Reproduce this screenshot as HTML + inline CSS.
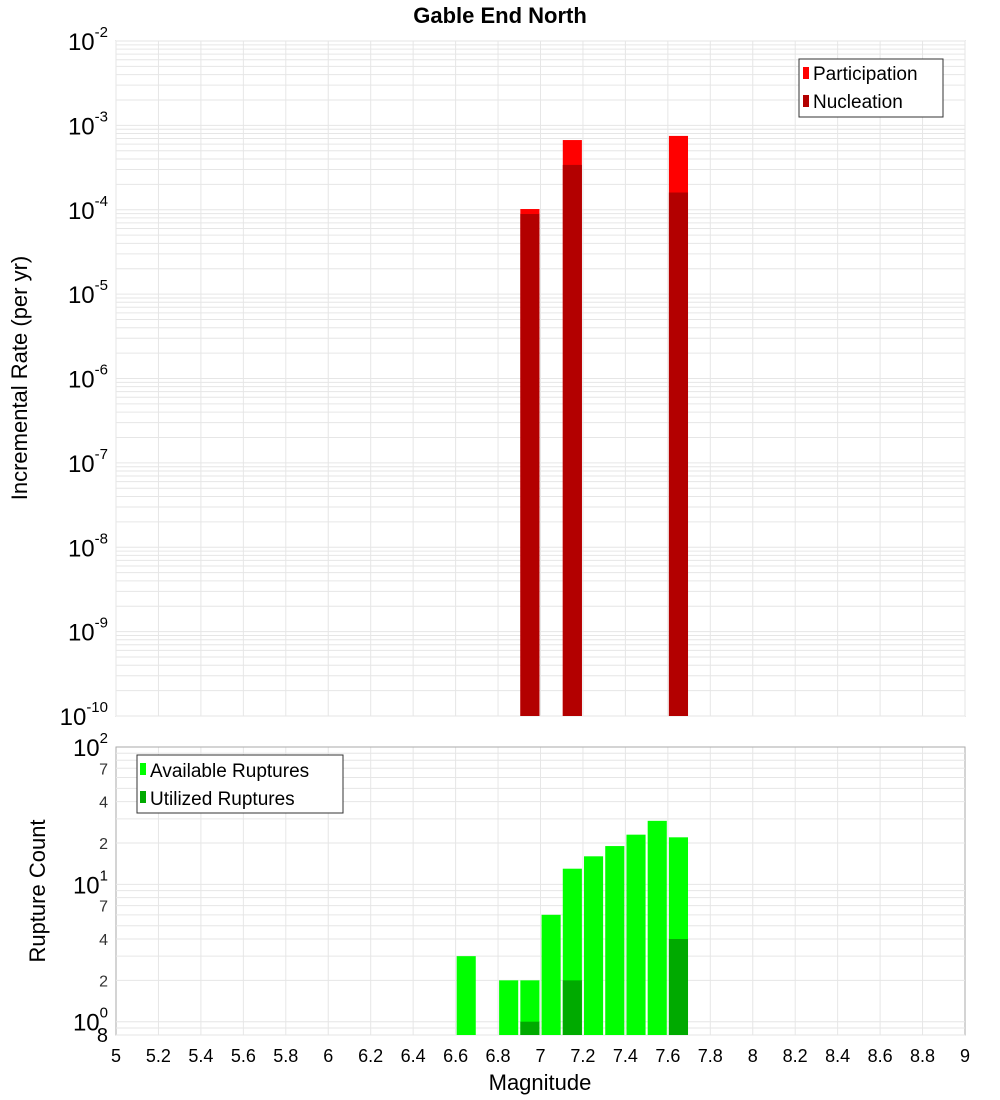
<!DOCTYPE html>
<html><head><meta charset="utf-8"><style>
html,body{margin:0;padding:0;background:#fff;}
svg{display:block;font-family:"Liberation Sans","DejaVu Sans",sans-serif;}
</style></head><body>
<svg id="chart" width="1000" height="1100" viewBox="0 0 1000 1100" xmlns="http://www.w3.org/2000/svg">
<text x="500" y="23" text-anchor="middle" font-size="22" font-weight="bold">Gable End North</text>
<g id="topPanel"></g><g id="botPanel"></g>
<text transform="translate(27,378) rotate(-90)" text-anchor="middle" font-size="22">Incremental Rate (per yr)</text>
<text transform="translate(45,891) rotate(-90)" text-anchor="middle" font-size="22">Rupture Count</text>
<text x="540" y="1090" text-anchor="middle" font-size="22">Magnitude</text>
<g>
<rect x="799" y="59" width="144" height="58" fill="#fff" stroke="#333"/>
<rect x="803" y="67" width="6" height="12" fill="#ff0000"/>
<text x="813" y="80" font-size="19">Participation</text>
<rect x="803" y="95" width="6" height="12" fill="#b30000"/>
<text x="813" y="108" font-size="19">Nucleation</text>
</g>
<g>
<rect x="137" y="755" width="206" height="58" fill="#fff" stroke="#333"/>
<rect x="140" y="763" width="6" height="12" fill="#00ff00"/>
<text x="150" y="777" font-size="19">Available Ruptures</text>
<rect x="140" y="791" width="6" height="12" fill="#00aa00"/>
<text x="150" y="805" font-size="19">Utilized Ruptures</text>
</g>
</svg>
<script>
const NS="http://www.w3.org/2000/svg";
const rateMags=[6.95,7.15,7.65];
const participation=[1.02e-4,6.7e-4,7.5e-4];
const nucleation=[8.9e-5,3.4e-4,1.6e-4];
const countMags=[6.65,6.85,6.95,7.05,7.15,7.25,7.35,7.45,7.55,7.65];
const available=[3,2,2,6,13,16,19,23,29,22];
const utilizedMags=[6.95,7.15,7.65];
const utilized=[1,2,4];
const xTicks=[5,5.2,5.4,5.6,5.8,6,6.2,6.4,6.6,6.8,7,7.2,7.4,7.6,7.8,8,8.2,8.4,8.6,8.8,9];
const topDecades=[-10,-9,-8,-7,-6,-5,-4,-3,-2];
const botTickVals=[2,4,7,20,40,70];

const L=116,R=965;
const X=m=>L+(m-5)/4*(R-L);
const T1=41,B1=716, yTop=v=>T1+(-2-Math.log10(v))/8*(B1-T1);
const T2=747,B2=1035, yBot=v=>T2+(2-Math.log10(v))/Math.log10(100/0.8)*(B2-T2);
const BW=0.09;
function el(p,t,a){const e=document.createElementNS(NS,t);for(const k in a)e.setAttribute(k,a[k]);p.appendChild(e);return e;}
const topG=document.getElementById('topPanel'),botG=document.getElementById('botPanel');

let r=el(topG,'rect',{x:L,y:T1,width:R-L,height:B1-T1,fill:'#fff',stroke:'#aaa'});


for(const d of topDecades){for(let k=1;k<10;k++){const v=k*Math.pow(10,d);if(v>1e-2+1e-12)continue;const y=yTop(v);
 const g=el(topG,'line',{x1:L,x2:R,y1:y,y2:y,stroke:'#e6e6e6','stroke-width':1});
 
 }}
for(const t of xTicks){const x=X(t);
 const g=el(topG,'line',{x1:x,x2:x,y1:T1,y2:B1,stroke:'#e6e6e6'});
 
 
 const g2=el(botG,'line',{x1:x,x2:x,y1:T2,y2:B2,stroke:'#e6e6e6'});
 
 }
for(const d of topDecades){const y=yTop(Math.pow(10,d));
 const t=el(topG,'text',{x:108,y:y+9,'text-anchor':'end','font-size':24});
 
 
 t.textContent='10';
 const s=el(t,'tspan',{dy:-13,'font-size':15});s.textContent=String(d);}
rateMags.forEach((m,i)=>{
 const x=X(m-BW/2),w=X(m+BW/2)-x;
 let b=el(topG,'rect',{x:x,y:yTop(participation[i]),width:w,height:B1-yTop(participation[i]),fill:'#ff0000'});
 
 
 b=el(topG,'rect',{x:x,y:yTop(nucleation[i]),width:w,height:B1-yTop(nucleation[i]),fill:'#b30000'});
 
 
});

r=el(botG,'rect',{x:L,y:T2,width:R-L,height:B2-T2,fill:'none',stroke:'#aaa'});


for(let d=-1;d<2;d++){for(let k=1;k<10;k++){const v=k*Math.pow(10,d);if(v<0.8)continue;const y=yBot(v);
 const g=el(botG,'line',{x1:L,x2:R,y1:y,y2:y,stroke:'#e6e6e6'});
 
 }}
for(const v of botTickVals){const t=el(botG,'text',{x:108,y:yBot(v)+6,'text-anchor':'end','font-size':16,fill:'#333'});
 
 
 t.textContent=String(v).charAt(0);}
[[100,'2'],[10,'1'],[1,'0']].forEach(([v,e])=>{const t=el(botG,'text',{x:108,y:yBot(v)+9,'text-anchor':'end','font-size':24});
 
 
 t.textContent='10';const s=el(t,'tspan',{dy:-13,'font-size':15});s.textContent=e;});
let t8=el(botG,'text',{x:108,y:1042,'text-anchor':'end','font-size':20});


t8.textContent='8';
countMags.forEach((m,i)=>{const x=X(m-BW/2),w=X(m+BW/2)-x;
 const b=el(botG,'rect',{x:x,y:yBot(available[i]),width:w,height:B2-yBot(available[i]),fill:'#00ff00'});
 
 });
utilizedMags.forEach((m,i)=>{const x=X(m-BW/2),w=X(m+BW/2)-x;
 const b=el(botG,'rect',{x:x,y:yBot(utilized[i]),width:w,height:B2-yBot(utilized[i]),fill:'#00aa00'});
 
 });
for(const t of xTicks){const tx=el(botG,'text',{x:X(t),y:1062,'text-anchor':'middle','font-size':18});
 
 
 tx.textContent=String(t);}
</script>
</body></html>
